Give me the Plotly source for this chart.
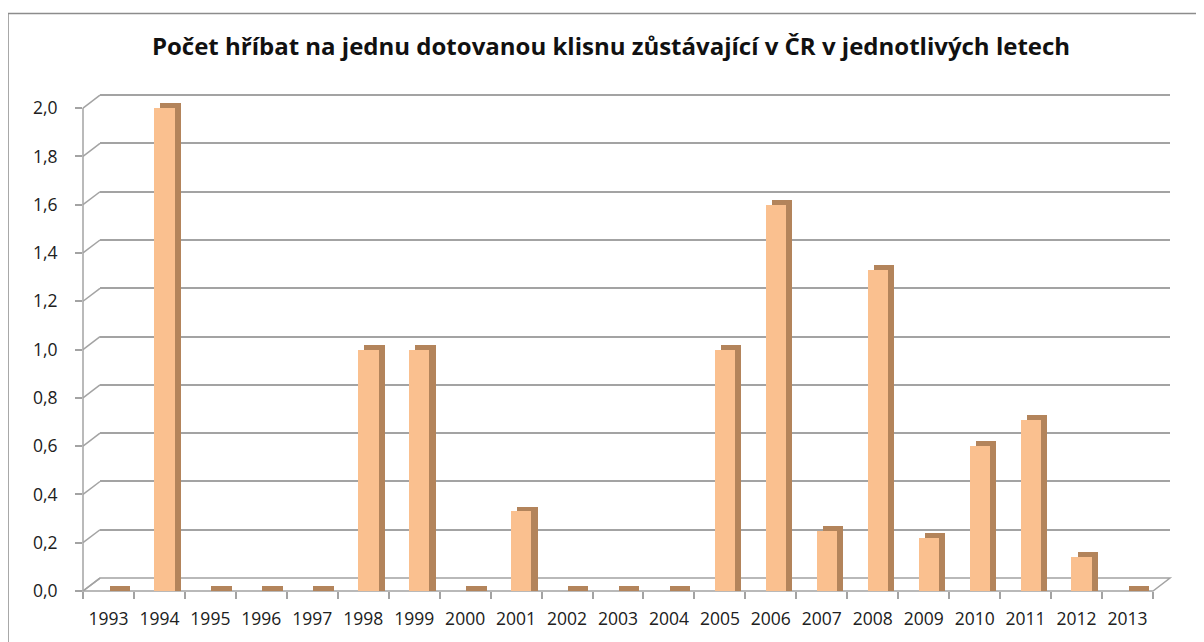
"""Počet hříbat na jednu dotovanou klisnu – sloupcový graf s 3D vzhledem."""

import plotly.graph_objects as go

YEARS = [str(y) for y in range(1993, 2014)]
FOALS_PER_MARE = [0, 2.0, 0, 0, 0, 1.0, 1.0, 0, 0.33, 0, 0, 0,
                  1.0, 1.6, 0.25, 1.33, 0.22, 0.6, 0.71, 0.14, 0]
Y_TICKS = [0, 0.2, 0.4, 0.6, 0.8, 1.0, 1.2, 1.4, 1.6, 1.8, 2.0]

TITLE = "Počet hříbat na jednu dotovanou klisnu zůstávající v ČR v jednotlivých letech"

# stránka má okraj body 8 px -> vše posunout
OFF = 8
W, H = 1204 - OFF, 642 - OFF
# geometrie (px na obrazovce) – přední rovina, hloubka podlahy a zadní stěny
L = 83 - OFF
Y0 = 593 - OFF
B = H - Y0
FRONT_W = 1070
DX, DY = 17, 13
Y_MAX = 2.1
UNIT = 242.5
FRONT_H = Y_MAX * UNIT
PW = FRONT_W + DX
PH = FRONT_H + DY
T = H - B - PH
R = W - L - PW

FACE = "#fac08f"
SIDE = "#b3845b"
GRID = "#a3a3a3"
TEXT = "#202020"
DEPTH = 0.02
FONT = "Open Sans, Lato, sans-serif"


def px_x(x):
    return (x - OFF - L) / PW


def px_y(y):
    return (Y0 - (y - OFF)) / PH


fig = go.Figure()

# zadní stěna – jen mřížka
fig.add_trace(go.Scatter(x=[], y=[], xaxis="x", yaxis="y", showlegend=False))

# boční/horní stěna sloupce (tmavší), posunutá do hloubky
fig.add_trace(
    go.Bar(
        x=YEARS,
        y=[v + DEPTH for v in FOALS_PER_MARE],
        offset=0.02,
        width=0.4,
        marker={"color": SIDE, "line": {"width": 0}},
        xaxis="x2",
        yaxis="y2",
        hoverinfo="skip",
        showlegend=False,
    )
)
# přední stěna sloupce
fig.add_trace(
    go.Bar(
        x=YEARS,
        y=FOALS_PER_MARE,
        offset=-0.1,
        width=0.4,
        marker={"color": FACE, "line": {"width": 0}},
        xaxis="x2",
        yaxis="y2",
        showlegend=False,
    )
)

shapes = []
# podlaha
fx1 = FRONT_W / PW
by = DY / PH
shapes.append(dict(
    type="path", xref="paper", yref="paper", layer="below",
    path=f"M 0 0 L {fx1} 0 L 1 {by} L {DX / PW} {by} Z",
    fillcolor="white", line={"color": GRID, "width": 1.5},
))
# přední svislá osa
shapes.append(dict(
    type="line", xref="paper", yref="paper",
    x0=0, x1=0, y0=0, y1=2.0 * UNIT / PH,
    line={"color": GRID, "width": 1.5},
))
# šikmé spojnice od osy k zadní stěně
for v in Y_TICKS:
    shapes.append(dict(
        type="line", xref="paper", yref="paper", layer="below",
        x0=0, y0=v * UNIT / PH, x1=DX / PW, y1=(DY + v * UNIT) / PH,
        line={"color": GRID, "width": 1.5},
    ))
# rámeček grafu
shapes.append(dict(
    type="rect", xref="paper", yref="paper", layer="below",
    x0=px_x(8), y0=px_y(700), x1=px_x(1260), y1=px_y(13),
    line={"color": "#8c8c8c", "width": 1.5}, fillcolor="rgba(0,0,0,0)",
))

fig.update_layout(
    width=W,
    height=H,
    margin={"l": L, "r": R, "t": T, "b": B, "pad": 0},
    paper_bgcolor="white",
    plot_bgcolor="rgba(0,0,0,0)",
    separators=", ",
    font={"family": FONT, "size": 17.5, "color": TEXT},
    title={
        "text": f"<b>{TITLE}</b>",
        "x": (611 - OFF) / W,
        "xanchor": "center",
        "y": 1 - (47 - OFF) / H,
        "yanchor": "middle",
        "font": {"family": FONT, "size": 24, "color": "#111"},
    },
    bargap=0,
    shapes=shapes,
    xaxis={
        "domain": [DX / PW, 1],
        "range": [0, 1],
        "visible": False,
        "fixedrange": True,
    },
    yaxis={
        "domain": [DY / PH, 1],
        "range": [0, Y_MAX],
        "tickvals": Y_TICKS,
        "showticklabels": False,
        "showgrid": True,
        "gridcolor": GRID,
        "gridwidth": 2,
        "zeroline": False,
        "showline": False,
        "ticks": "",
    },
    xaxis2={
        "domain": [0, fx1],
        "anchor": "y2",
        "type": "category",
        "range": [-0.5, len(YEARS) - 0.5],
        "showgrid": False,
        "showline": False,
        "ticks": "outside",
        "tickson": "boundaries",
        "ticklen": 7,
        "tickcolor": GRID,
        "tickwidth": 1.5,
        "ticklabelstandoff": 15,
    },
    yaxis2={
        "domain": [0, FRONT_H / PH],
        "anchor": "x2",
        "range": [0, Y_MAX],
        "tickvals": Y_TICKS,
        "tickformat": ".1f",
        "showgrid": False,
        "zeroline": False,
        "showline": False,
        "ticks": "outside",
        "ticklen": 7,
        "tickcolor": GRID,
        "tickwidth": 1.5,
        "ticklabelstandoff": 14,
    },
)

fig.write_html("out.html")
